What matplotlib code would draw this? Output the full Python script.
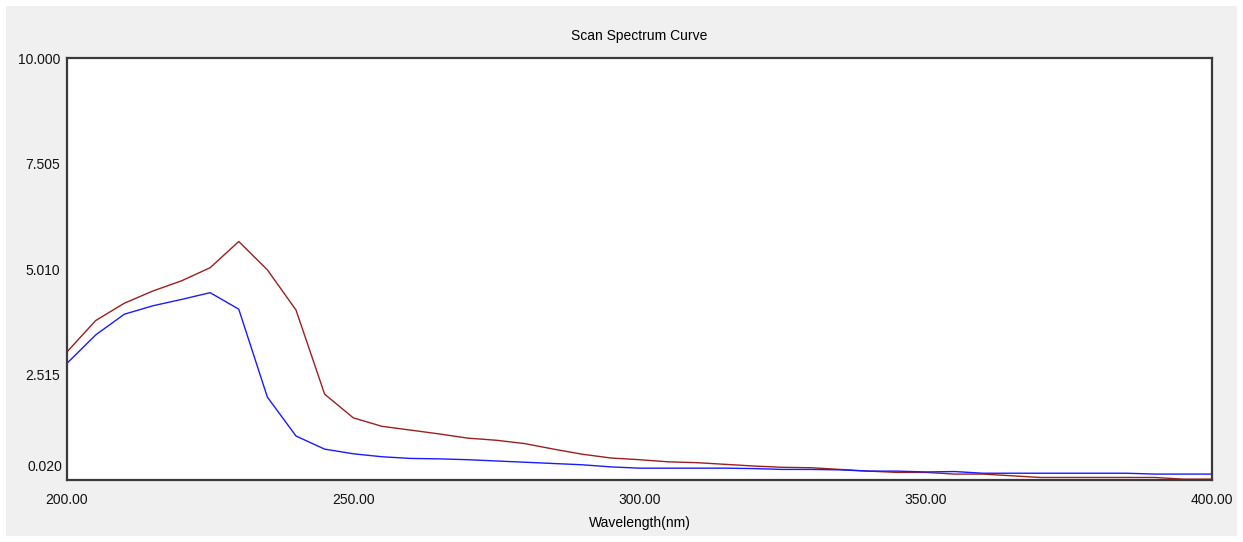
import matplotlib
matplotlib.use("Agg")
import matplotlib.pyplot as plt
from matplotlib.patches import Rectangle

# wavelength grid (nm) and the two scanned curves
wavelength = [200, 205, 210, 215, 220, 225, 230, 235, 240, 245,
              250, 255, 260, 265, 270, 275, 280, 285, 290, 295,
              300, 305, 310, 315, 320, 325, 330, 335, 340, 345,
              350, 355, 360, 365, 370, 375, 380, 385, 390, 395, 400]

red_curve = [3.05, 3.79, 4.20, 4.49, 4.73, 5.04, 5.66, 4.99, 4.04, 2.05,
             1.49, 1.29, 1.20, 1.11, 1.01, 0.96, 0.88, 0.75, 0.63, 0.54,
             0.50, 0.45, 0.43, 0.39, 0.35, 0.32, 0.31, 0.27, 0.23, 0.20,
             0.20, 0.16, 0.16, 0.12, 0.08, 0.08, 0.08, 0.08, 0.08, 0.04, 0.04]

blue_curve = [2.78, 3.45, 3.94, 4.14, 4.29, 4.45, 4.06, 1.98, 1.06, 0.75,
              0.64, 0.57, 0.53, 0.52, 0.50, 0.47, 0.44, 0.41, 0.38, 0.33,
              0.30, 0.30, 0.30, 0.30, 0.29, 0.27, 0.27, 0.26, 0.23, 0.23,
              0.21, 0.22, 0.18, 0.18, 0.18, 0.18, 0.18, 0.18, 0.16, 0.16, 0.16]

y_ticks = [0.020, 2.515, 5.010, 7.505, 10.000]
x_ticks = [200, 250, 300, 350, 400]

plt.rcParams['font.family'] = ['Liberation Sans', 'DejaVu Sans']

fig = plt.figure(figsize=(12.43, 5.42), dpi=100, facecolor='white')
# grey window panel behind the axes
fig.add_artist(Rectangle((6 / 1243, 6 / 542), 1 - 12 / 1243, 1 - 12 / 542,
                         transform=fig.transFigure, facecolor='#f0f0f0',
                         edgecolor='none', zorder=-10))

ax = fig.add_axes([67 / 1243, 1 - 480 / 542, (1212 - 67) / 1243, (480 - 58) / 542])
ax.set_facecolor('white')

ax.plot(wavelength, red_curve, color='#9c1f1f', lw=1.0)
ax.plot(wavelength, blue_curve, color='#1a1aff', lw=1.0)

ax.set_xlim(200, 400)
ax.set_ylim(0.020, 10.000)
ax.set_xticks(x_ticks)
ax.set_xticklabels([f"{v:.2f}" for v in x_ticks])
ax.set_yticks(y_ticks)
# lowest label is lifted above the frame, as in the original software
ax.set_yticklabels([""] + [f"{v:.3f}" for v in y_ticks[1:]])
ax.annotate(f"{y_ticks[0]:.3f}", xy=(0, y_ticks[0]), xycoords=('axes fraction', 'data'),
            xytext=(-5, 6), textcoords='offset pixels', ha='right', va='bottom',
            fontsize=10, color='#111111')
ax.tick_params(length=0, labelsize=10, colors='#111111')
ax.tick_params(axis='x', pad=9)
ax.tick_params(axis='y', pad=5)

for s in ax.spines.values():
    s.set_color('#3a3a3a')
    s.set_linewidth(1.6)

ax.set_xlabel("Wavelength(nm)", fontsize=10, labelpad=7)
ax.set_title("Scan Spectrum Curve", fontsize=10, pad=13)

fig.savefig("out.png", dpi=100, facecolor=fig.get_facecolor())
